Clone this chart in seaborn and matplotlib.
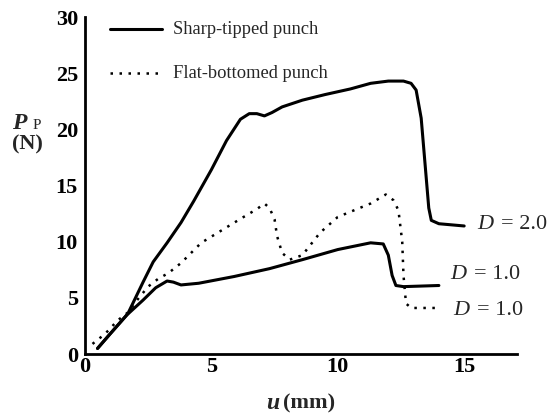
import matplotlib
matplotlib.use("Agg")
import matplotlib.pyplot as plt
import seaborn as sns
import pandas as pd

# Sharp-tipped punch, D = 2.0
sharp2_u = [0.5, 1.0, 1.7, 2.3, 2.7, 3.25, 3.8, 4.3, 5.0, 5.6, 6.15, 6.5, 6.8, 7.1, 7.4, 7.8,
            8.6, 9.5, 10.5, 11.3, 12.0, 12.6, 12.9, 13.1, 13.3, 13.45, 13.6, 13.7, 14.0, 15.0]
sharp2_p = [0.5, 1.8, 3.6, 6.4, 8.2, 9.9, 11.7, 13.6, 16.4, 19.0, 20.9, 21.4, 21.4, 21.2, 21.5, 22.0,
            22.6, 23.1, 23.6, 24.1, 24.3, 24.3, 24.1, 23.5, 21.0, 17.0, 13.0, 11.9, 11.6, 11.4]

# Sharp-tipped punch, D = 1.0
sharp1_u = [0.5, 1.0, 1.67, 2.3, 2.8, 3.25, 3.5, 3.8, 4.5, 5.9, 7.3, 8.6, 10.0, 11.3, 11.8,
            12.0, 12.15, 12.3, 12.6, 14.0]
sharp1_p = [0.5, 1.8, 3.5, 4.8, 5.9, 6.5, 6.4, 6.15, 6.3, 6.9, 7.6, 8.4, 9.3, 9.9, 9.8,
            8.8, 7.0, 6.1, 6.0, 6.1]

# Flat-bottomed punch, D = 1.0
flat1_u = [0.3, 0.8, 1.3, 1.7, 2.1, 2.5, 2.9, 3.3, 3.8, 4.6, 5.4, 6.2, 6.8, 7.1, 7.3, 7.5, 7.6,
           7.8, 8.1, 8.6, 9.3, 10.0, 11.3, 11.9, 12.2, 12.4, 12.55, 12.6, 12.7, 12.9, 14.0]
flat1_p = [0.9, 1.8, 3.0, 3.7, 4.9, 6.0, 6.7, 7.2, 8.1, 9.9, 11.0, 12.1, 12.9, 13.4, 13.0, 12.0, 10.5,
           9.0, 8.4, 8.8, 10.8, 12.2, 13.4, 14.2, 13.7, 12.8, 10.0, 7.0, 4.5, 4.1, 4.1]

x_ticks = [0, 5, 10, 15]
y_ticks = [0, 5, 10, 15, 20, 25, 30]
legend_labels = ["Sharp-tipped punch", "Flat-bottomed punch"]
curve_labels = ["2.0", "1.0", "1.0"]

sns.set_style("white")
plt.rcParams['font.family'] = ['Liberation Serif', 'DejaVu Serif']

fig = plt.figure(figsize=(5.55, 4.16), dpi=100)
ax = fig.add_axes([0.153, 0.149, 0.779, 0.810])

df2 = pd.DataFrame({"u": sharp2_u, "P": sharp2_p})
df1 = pd.DataFrame({"u": sharp1_u, "P": sharp1_p})
dff = pd.DataFrame({"u": flat1_u, "P": flat1_p})

sns.lineplot(data=df2, x="u", y="P", ax=ax, color="black", lw=2.2, sort=False, estimator=None)
sns.lineplot(data=df1, x="u", y="P", ax=ax, color="black", lw=2.2, sort=False, estimator=None)
sns.lineplot(data=dff, x="u", y="P", ax=ax, color="black", lw=1.8, sort=False, estimator=None,
             linestyle=(0, (1, 2.6)))

ax.set_xlim(0, 17.1)
ax.set_ylim(0, 30)
ax.set_xticks(x_ticks)
ax.set_yticks(y_ticks)
ax.set_xticklabels([str(t) for t in x_ticks], fontsize=16, fontweight='bold')
ax.set_yticklabels([str(t) for t in y_ticks], fontsize=16, fontweight='bold')
ax.tick_params(axis='y', direction='in', length=5, width=2, pad=5, colors='black')
ax.tick_params(axis='x', direction='in', length=5, width=2, pad=2, colors='black')
for s in ['top', 'right']:
    ax.spines[s].set_visible(False)
for s in ['left', 'bottom']:
    ax.spines[s].set_linewidth(2)
    ax.spines[s].set_color('black')

ax.set_xlabel("")
ax.set_ylabel("")
fig.text(0.510, 0.006, "(mm)", fontsize=16, fontweight='bold', ha='left', va='bottom')
fig.text(0.503, 0.006, "u", fontsize=17, fontweight='bold', style='italic', ha='right', va='bottom')
fig.text(0.022, 0.690, "P", fontsize=17, fontweight='bold', style='italic', ha='left', va='baseline')
fig.text(0.058, 0.690, "P", fontsize=11, ha='left', va='baseline')
fig.text(0.050, 0.641, "(N)", fontsize=16, fontweight='bold', ha='center', va='baseline')

# legend drawn as lines and text in axes data coordinates
ax.plot([1.0, 3.05], [28.9, 28.9], color='black', lw=2.2)
ax.plot([1.0, 2.9], [25.0, 25.0], color='black', lw=1.8, linestyle=(0, (1, 2.6)))
ax.text(3.5, 28.9, legend_labels[0], fontsize=13.3, va='center', ha='left')
ax.text(3.5, 25.0, legend_labels[1], fontsize=13.3, va='center', ha='left')

def dlabel(x, y, val):
    ax.text(x, y, "D", fontsize=16, style='italic', va='center', ha='left', clip_on=False)
    ax.text(x + 0.95, y, "= " + val, fontsize=16, va='center', ha='left', clip_on=False)

dlabel(15.5, 11.5, curve_labels[0])
dlabel(14.45, 7.1, curve_labels[1])
dlabel(14.55, 3.9, curve_labels[2])

fig.savefig("out.png", dpi=100)
